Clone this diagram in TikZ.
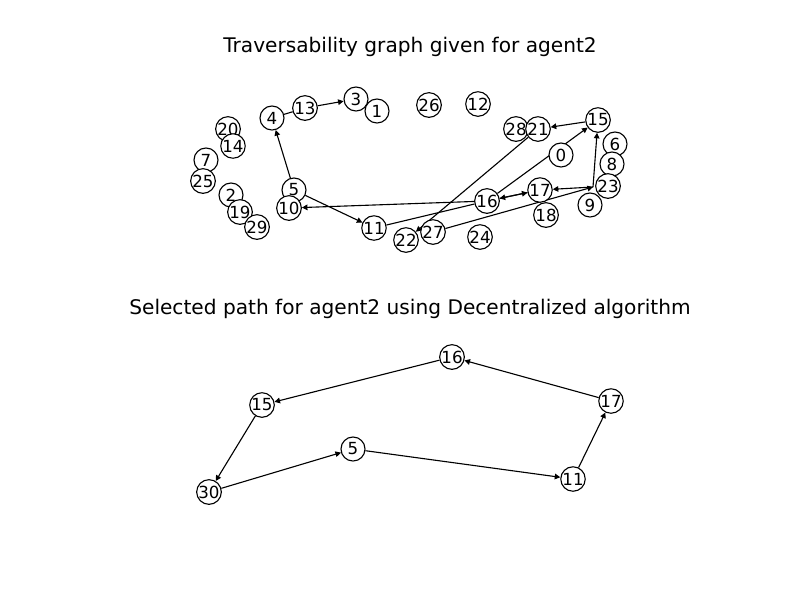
\documentclass[tikz,border=0pt]{standalone}
\usepackage{fontspec}
\setmainfont{DejaVu Sans}
\usetikzlibrary{arrows.meta,backgrounds}
\begin{document}
\begin{tikzpicture}[x=0.72pt,y=-0.72pt,
  vtx/.style={circle,draw,fill=white,line width=0.8pt,minimum size=17.3pt,inner sep=0pt,font=\fontsize{12pt}{12pt}\selectfont},
  arr/.style={line width=0.8pt,-{Triangle[length=4pt,width=4pt]}},
  ln/.style={line width=0.8pt},
  ttl/.style={font=\fontsize{14.5pt}{16pt}\selectfont}]
\useasboundingbox (0,0) rectangle (800,600);
\node[ttl] (t1) at (410,47) {Traversability graph given for agent2};
\node[ttl] (t2) at (410,309) {Selected path for agent2 using Decentralized algorithm};
% top graph nodes
\node[vtx] (n4) at (272,118) {4};
\node[vtx] (n13) at (305,108) {13};
\node[vtx] (n3) at (356,99) {3};
\node[vtx] (n1) at (377,111) {1};
\node[vtx] (n26) at (429,105) {26};
\node[vtx] (n12) at (478,104) {12};
\node[vtx] (n28) at (516,129) {28};
\node[vtx] (n21) at (538,129) {21};
\node[vtx] (n15) at (598,120) {15};
\node[vtx] (n6) at (615,144) {6};
\node[vtx] (n0) at (561,155) {0};
\node[vtx] (n8) at (612,164) {8};
\node[vtx] (n20) at (228,129) {20};
\node[vtx] (n14) at (233,146) {14};
\node[vtx] (n7) at (206,160) {7};
\node[vtx] (n25) at (203,181) {25};
\node[vtx] (n2) at (231,195) {2};
\node[vtx] (n19) at (240,212) {19};
\node[vtx] (n29) at (257,227) {29};
\node[vtx] (n5) at (294,190) {5};
\node[vtx] (n10) at (289,208) {10};
\node[vtx] (n11) at (374,228) {11};
\node[vtx] (n22) at (406,240) {22};
\node[vtx] (n27) at (433,232) {27};
\node[vtx] (n24) at (480,237) {24};
\node[vtx] (n16) at (487,201) {16};
\node[vtx] (n17) at (540,190) {17};
\node[vtx] (n18) at (546,215) {18};
\node[vtx] (n23) at (608,186) {23};
\node[vtx] (n9) at (590,205) {9};
\coordinate (hub) at (593,187);
% bottom graph nodes
\node[vtx] (b16) at (452,357) {16};
\node[vtx] (b15) at (262,405) {15};
\node[vtx] (b17) at (611,401) {17};
\node[vtx] (b5) at (353,449) {5};
\node[vtx] (b30) at (209,492) {30};
\node[vtx] (b11) at (573,479) {11};
\begin{pgfonlayer}{background}
\draw[ln] (n4) -- (n13);
\draw[arr] (n13) -- (n3);
\draw[arr] (n5) -- (n4);
\draw[arr] (n5) -- (n11);
\draw[arr] (n16) -- (n10);
\draw[ln] (n11) -- (n16);
\draw[arr] (n21) -- (n22);
\draw[arr] (n16) -- (n15);
\draw[arr] (n15) -- (n21);
\draw[arr] (n16) -- (n17);
\draw[arr] (n17) -- (n16);
\draw[arr] (hub) -- (n17);
\draw[arr] (n27) -- (hub);
\draw[arr] (hub) -- (n15);
\draw[arr] (b16) -- (b15);
\draw[arr] (b17) -- (b16);
\draw[arr] (b15) -- (b30);
\draw[arr] (b30) -- (b5);
\draw[arr] (b5) -- (b11);
\draw[arr] (b11) -- (b17);
\end{pgfonlayer}
\end{tikzpicture}
\end{document}
